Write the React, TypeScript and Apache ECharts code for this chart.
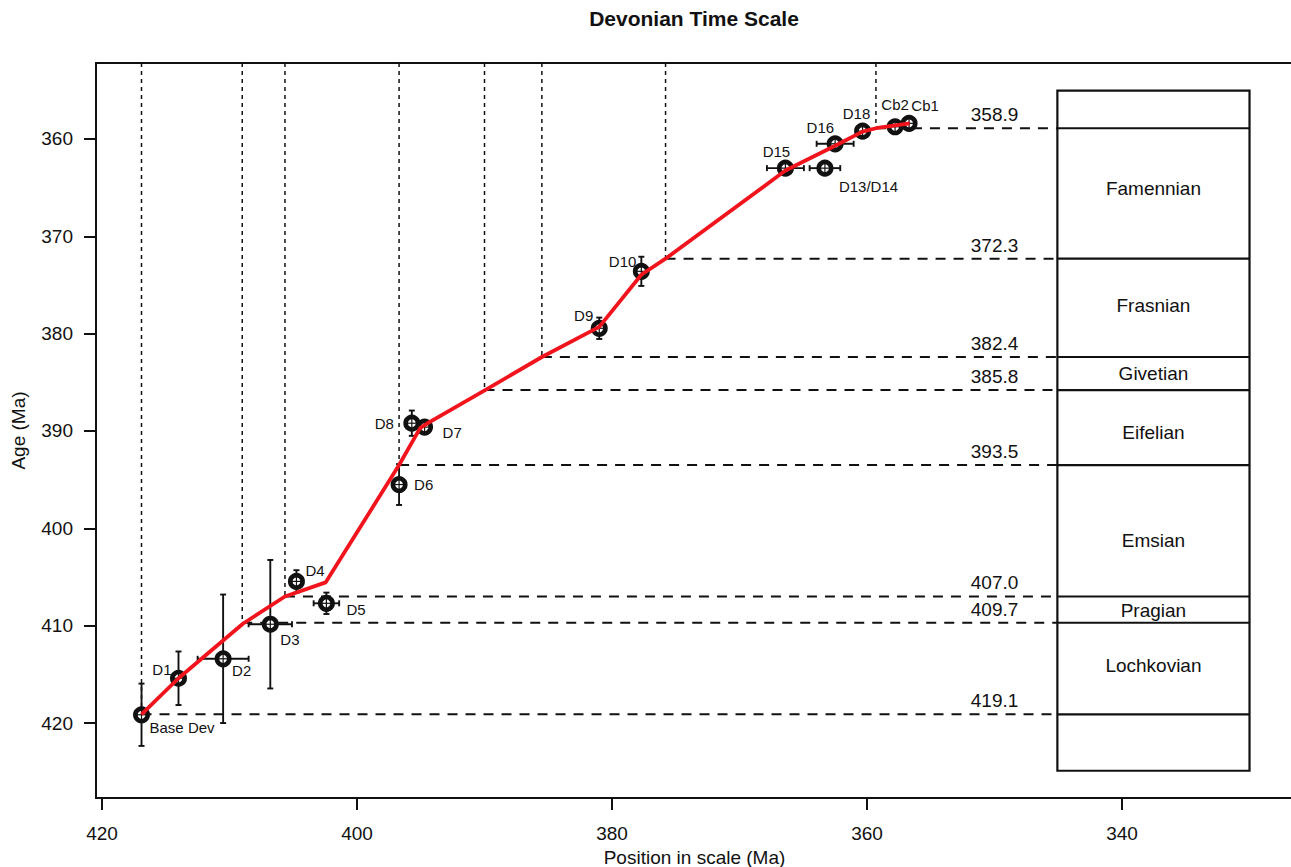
import React, { useEffect, useRef } from 'react';
import * as echarts from 'echarts';

// Dated samples: name, position in the composite scale, age and 2-sigma errors
const sampleNames = ['Base Dev', 'D1', 'D2', 'D3', 'D4', 'D5', 'D6', 'D7', 'D8', 'D9', 'D10', 'D15', 'D13/D14', 'D16', 'D18', 'Cb2', 'Cb1'];
const samplePositions = [416.9, 414.0, 410.5, 406.8, 404.75, 402.4, 396.7, 394.7, 395.7, 381.0, 377.7, 366.4, 363.3, 362.5, 360.35, 357.8, 356.7];
const sampleAges = [419.15, 415.4, 413.4, 409.85, 405.45, 407.7, 395.5, 389.6, 389.2, 379.45, 373.6, 363.0, 363.0, 360.5, 359.2, 358.75, 358.4];
const sampleAgeErrors = [3.2, 2.75, 6.6, 6.6, 1.15, 1.1, 2.1, 0, 1.3, 1.1, 1.5, 0, 0, 0, 0, 0, 0];
const samplePositionErrors = [0, 0, 2.0, 1.7, 0, 1.0, 0, 0, 0, 0, 0, 1.45, 1.2, 1.45, 0, 0, 0];

// Fitted age model (position -> age)
const modelPositions = [416.9, 414.0, 408.95, 405.65, 402.45, 396.7, 395.05, 394.45, 389.95, 385.5, 381.0, 377.7, 375.8, 366.4, 362.5, 360.35, 359.3, 356.65];
const modelAges = [419.1, 415.4, 409.8, 407.0, 405.55, 393.5, 389.7, 389.2, 385.8, 382.4, 379.3, 373.95, 372.3, 363.25, 360.7, 359.25, 358.9, 358.4];

// Stage boundaries: age and the scale position where the model reaches it
const boundaryAges = [358.9, 372.3, 382.4, 385.8, 393.5, 407.0, 409.7, 419.1];
const boundaryPositions = [359.3, 375.8, 385.5, 390.0, 396.7, 405.65, 409.0, 416.9];

// Stages and the age at which each name is written
const stageNames = ['Famennian', 'Frasnian', 'Givetian', 'Eifelian', 'Emsian', 'Pragian', 'Lochkovian'];
const stageLabelAges = [365.1, 377.1, 384.1, 390.2, 401.2, 408.45, 414.1];

// Axis ticks
const xTicks = [420, 400, 380, 360, 340];
const yTicks = [360, 370, 380, 390, 400, 410, 420];

// Chart window and column extent (scale units)
const xRange = [326.59, 420.47];
const yRange = [352.2, 427.7];
const columnLeft = 345.07;
const columnRight = 330.0;
const columnTop = 355.04;
const columnBottom = 424.9;
const boundaryLabelPosition = 350;

// Label placement for each sample: [dx, dy, align]
const labelPlacement: [number, number, string][] = [
  [8, 13, 'left'], [-7, -9, 'right'], [9, 12, 'left'], [10, 15, 'left'], [9, -11, 'left'],
  [20, 6, 'left'], [15, 0, 'left'], [18, 5, 'left'], [-18, 0, 'right'], [-6, -13, 'right'],
  [-5, -10, 'right'], [-9, -17, 'center'], [14, 18, 'left'], [-1, -16, 'right'], [-6, -18, 'center'],
  [0, -22, 'center'], [16, -18, 'center'],
];

const FONT = "'Liberation Sans', Arial, Helvetica, sans-serif";
const INK = '#111';

export default function App() {
  const ref = useRef<HTMLDivElement>(null);

  useEffect(() => {
    document.body.style.margin = '0';
    const chart = echarts.init(ref.current!, undefined, { renderer: 'svg' });

    const sampleData = sampleNames.map((n, i) => [
      samplePositions[i], sampleAges[i], sampleAgeErrors[i], samplePositionErrors[i], i,
    ]);
    const modelData = modelPositions.map((p, i) => [p, modelAges[i]]);
    const boundaryData = boundaryAges.map((a, i) => [boundaryPositions[i], a]);
    const stageData = stageNames.map((n, i) => [stageLabelAges[i], i]);

    const option: any = {
      animation: false,
      backgroundColor: '#fff',
      graphic: [
        {
          type: 'text', x: 694, y: 18, z: 10,
          style: {
            text: 'Devonian Time Scale', align: 'center', verticalAlign: 'middle',
            fontSize: 21, fontWeight: 'bold', fontFamily: FONT, fill: INK,
          },
        },
      ],
      grid: {
        left: 96, top: 63, right: -2, bottom: 69,
        containLabel: false, outerBoundsMode: 'none',
        show: true, borderColor: INK, borderWidth: 2, backgroundColor: 'transparent',
      },
      xAxis: {
        type: 'value', inverse: true, min: xRange[0], max: xRange[1],
        name: 'Position in scale (Ma)', nameLocation: 'middle', nameGap: 50,
        nameTextStyle: { fontSize: 19, fontFamily: FONT, color: INK },
        axisLine: { show: true, lineStyle: { color: INK, width: 2 } },
        axisTick: { show: true, length: 12, inside: false, customValues: xTicks, lineStyle: { color: INK, width: 2 } },
        axisLabel: { customValues: xTicks, margin: 26, fontSize: 19, fontFamily: FONT, color: INK },
        splitLine: { show: false },
      },
      yAxis: {
        type: 'value', inverse: true, min: yRange[0], max: yRange[1],
        name: 'Age (Ma)', nameLocation: 'middle', nameGap: 68, nameRotate: 90,
        nameTextStyle: { fontSize: 19, fontFamily: FONT, color: INK },
        axisLine: { show: true, lineStyle: { color: INK, width: 2 } },
        axisTick: { show: true, length: 12, inside: false, customValues: yTicks, lineStyle: { color: INK, width: 2 } },
        axisLabel: { customValues: yTicks, margin: 23, fontSize: 19, fontFamily: FONT, color: INK },
        splitLine: { show: false },
      },
      series: [
        {
          // stage column outline
          type: 'custom', z: 1, silent: true,
          data: [[columnLeft, columnTop, columnRight, columnBottom]],
          renderItem: (params: any, api: any) => {
            const a = api.coord([api.value(0), api.value(1)]);
            const b = api.coord([api.value(2), api.value(3)]);
            return {
              type: 'rect',
              shape: { x: a[0], y: a[1], width: b[0] - a[0], height: b[1] - a[1] },
              style: { fill: 'none', stroke: INK, lineWidth: 2.2 },
            };
          },
        },
        {
          // stage names
          type: 'custom', z: 1, silent: true,
          data: stageData,
          renderItem: (params: any, api: any) => {
            const c = api.coord([(columnLeft + columnRight) / 2, api.value(0)]);
            return {
              type: 'text', x: c[0], y: c[1],
              style: {
                text: stageNames[api.value(1)], align: 'center', verticalAlign: 'middle',
                fontSize: 19, fontFamily: FONT, fill: INK,
              },
            };
          },
        },
        {
          // boundary guide lines and age labels
          type: 'custom', z: 1, silent: true,
          data: boundaryData,
          renderItem: (params: any, api: any) => {
            const age = api.value(1);
            const p = api.coord([api.value(0), age]);
            const l = api.coord([columnLeft, age])[0];
            const r = api.coord([columnRight, age])[0];
            const lx = api.coord([boundaryLabelPosition, age])[0];
            const top = params.coordSys.y;
            return {
              type: 'group',
              children: [
                { type: 'line', shape: { x1: p[0], y1: top, x2: p[0], y2: p[1] }, style: { stroke: INK, lineWidth: 1.5, lineDash: [4, 4] } },
                { type: 'line', shape: { x1: p[0], y1: p[1], x2: l, y2: p[1] }, style: { stroke: INK, lineWidth: 2, lineDash: [10, 8] } },
                { type: 'line', shape: { x1: l, y1: p[1], x2: r, y2: p[1] }, style: { stroke: INK, lineWidth: 2.2 } },
                {
                  type: 'text', x: lx, y: p[1] - 4,
                  style: { text: age.toFixed(1), align: 'center', verticalAlign: 'bottom', fontSize: 19, fontFamily: FONT, fill: INK },
                },
              ],
            };
          },
        },
        {
          // samples with error bars
          type: 'custom', z: 3, silent: true,
          data: sampleData,
          renderItem: (params: any, api: any) => {
            const x = api.value(0), y = api.value(1), ey = api.value(2), ex = api.value(3), idx = api.value(4);
            const c = api.coord([x, y]);
            const children: any[] = [];
            const bar = { stroke: INK, lineWidth: 1.9 };
            const cap = 3;
            if (ey > 0) {
              const t = api.coord([x, y - ey])[1];
              const b = api.coord([x, y + ey])[1];
              children.push({ type: 'line', shape: { x1: c[0], y1: t, x2: c[0], y2: b }, style: bar });
              children.push({ type: 'line', shape: { x1: c[0] - cap, y1: t, x2: c[0] + cap, y2: t }, style: bar });
              children.push({ type: 'line', shape: { x1: c[0] - cap, y1: b, x2: c[0] + cap, y2: b }, style: bar });
            }
            if (ex > 0) {
              const l = api.coord([x + ex, y])[0];
              const r = api.coord([x - ex, y])[0];
              children.push({ type: 'line', shape: { x1: l, y1: c[1], x2: r, y2: c[1] }, style: bar });
              children.push({ type: 'line', shape: { x1: l, y1: c[1] - cap, x2: l, y2: c[1] + cap }, style: bar });
              children.push({ type: 'line', shape: { x1: r, y1: c[1] - cap, x2: r, y2: c[1] + cap }, style: bar });
            }
            children.push({ type: 'circle', shape: { cx: c[0], cy: c[1], r: 6.2 }, style: { fill: '#fff', stroke: INK, lineWidth: 4.6 } });
            children.push({ type: 'line', shape: { x1: c[0] - 5, y1: c[1], x2: c[0] + 5, y2: c[1] }, style: { stroke: INK, lineWidth: 1.2 } });
            children.push({ type: 'line', shape: { x1: c[0], y1: c[1] - 5, x2: c[0], y2: c[1] + 5 }, style: { stroke: INK, lineWidth: 1.2 } });
            const lp = labelPlacement[idx];
            children.push({
              type: 'text', x: c[0] + lp[0], y: c[1] + lp[1],
              style: { text: sampleNames[idx], align: lp[2], verticalAlign: 'middle', fontSize: 15, fontFamily: FONT, fill: INK },
            });
            return { type: 'group', children };
          },
        },
        {
          // age model
          type: 'line', z: 4, silent: true,
          data: modelData, showSymbol: false, symbol: 'none',
          lineStyle: { color: '#f2141c', width: 3.8 },
        },
      ],
    };

    chart.setOption(option);
    return () => chart.dispose();
  }, []);

  return <div ref={ref} style={{ position: 'fixed', left: 0, top: 0, width: 1291, height: 867 }} />;
}
